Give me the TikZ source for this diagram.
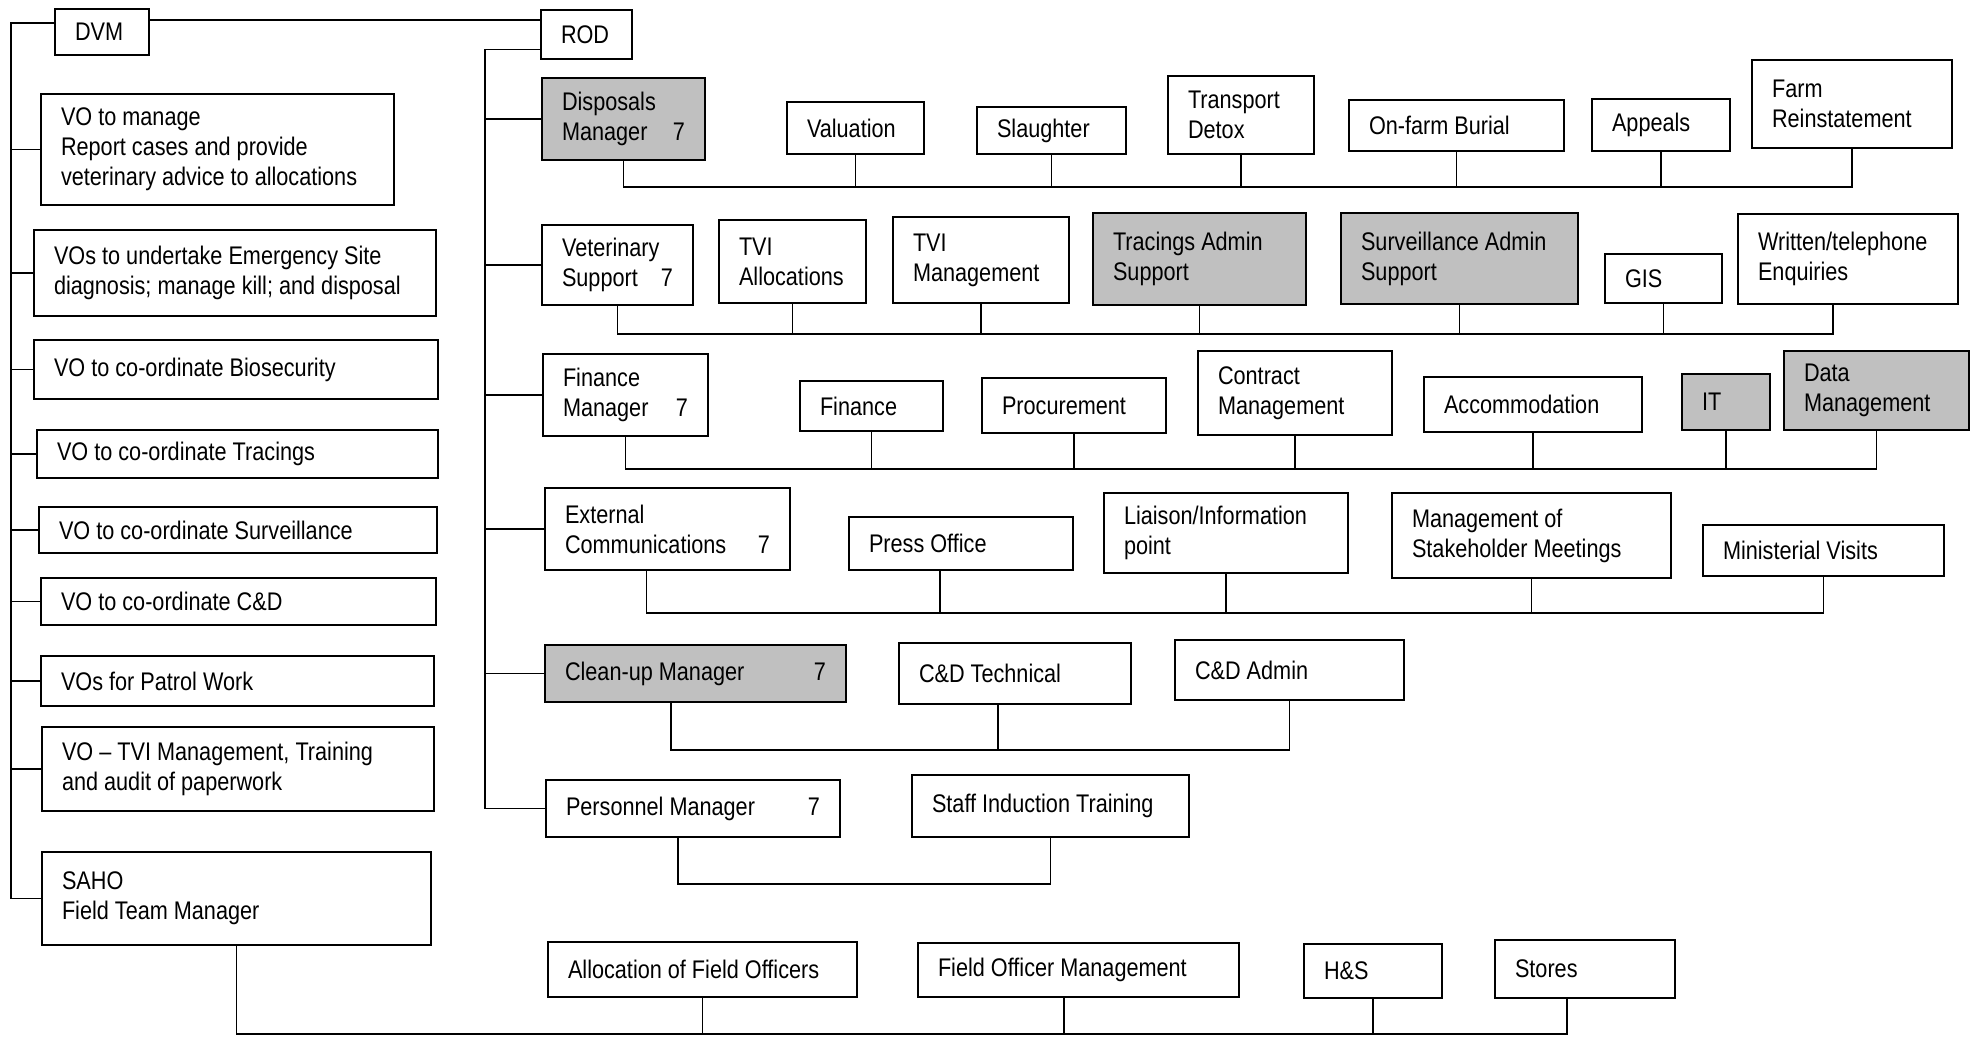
\documentclass[tikz,border=0pt]{standalone}
\usepackage{fontspec}
\setmainfont{Liberation Sans}[FakeStretch=0.85]
\usepackage{xcolor}
\definecolor{boxgray}{HTML}{C0C0C0}

\begin{document}
\begin{tikzpicture}[
		font=\fontsize{14.5}{17.1}\selectfont,
		box/.style={draw, line width=0.04cm, anchor=north west, align=flush left, inner xsep=0.4cm, inner ysep=0pt},
		grey/.style={box, fill=boxgray},
		boxsize/.code 2 args={\pgfmathsetmacro\boxtw{#1-0.8}\edef\boxkeys{\noexpand\tikzset{text width=\boxtw cm}}\boxkeys\tikzset{minimum width=#1cm, minimum height=#2cm}},
		link/.style={line width=0.035cm}
	]
		\useasboundingbox (0,0) rectangle (39.46,-20.72);
		
		\node[box, boxsize={1.88}{0.92}] (dvm) at (1.08,-0.16) {DVM};
		\node[box, boxsize={7.06}{2.22}] (vomanage) at (0.80,-1.86) {VO to manage\\Report cases and provide\\veterinary advice to allocations};
		\node[box, boxsize={8.04}{1.72}] (voemerg) at (0.66,-4.58) {VOs to undertake Emergency Site\\diagnosis; manage kill; and disposal};
		\node[box, boxsize={8.08}{1.18}] (vobiosec) at (0.66,-6.78) {VO to co-ordinate Biosecurity};
		\node[box, boxsize={8.02}{0.96}] (votrace) at (0.72,-8.58) {VO to co-ordinate Tracings};
		\node[box, boxsize={7.96}{0.92}] (vosurv) at (0.76,-10.12) {VO to co-ordinate Surveillance};
		\node[box, boxsize={7.90}{0.94}] (vocd) at (0.80,-11.54) {VO to co-ordinate C\&D};
		\node[box, boxsize={7.86}{1.00}] (vopatrol) at (0.80,-13.10) {VOs for Patrol Work};
		\node[box, boxsize={7.84}{1.68}] (votvi) at (0.82,-14.52) {VO – TVI Management, Training\\and audit of paperwork};
		\node[box, boxsize={7.78}{1.86}] (saho) at (0.82,-17.02) {SAHO\\Field Team Manager};
		
		\node[box, boxsize={1.82}{0.98}] (rod) at (10.80,-0.18) {ROD};
		
		\node[grey, boxsize={3.26}{1.64}] (dispmgr) at (10.82,-1.54) {Disposals\\Manager\hfill 7};
		\node[box, boxsize={2.74}{1.04}] (valuation) at (15.72,-2.02) {Valuation};
		\node[box, boxsize={2.98}{0.94}] (slaughter) at (19.52,-2.12) {Slaughter};
		\node[box, boxsize={2.92}{1.56}] (transport) at (23.34,-1.50) {Transport\\Detox};
		\node[box, boxsize={4.30}{1.02}] (burial) at (26.96,-1.98) {On-farm Burial};
		\node[box, boxsize={2.76}{1.04}] (appeals) at (31.82,-1.96) {Appeals};
		\node[box, boxsize={4.00}{1.76}] (farm) at (35.02,-1.18) {Farm\\Reinstatement};
		
		\node[box, boxsize={3.02}{1.60}] (vetsup) at (10.82,-4.48) {Veterinary\\Support\hfill 7};
		\node[box, boxsize={2.94}{1.66}] (tvialloc) at (14.36,-4.38) {TVI\\Allocations};
		\node[box, boxsize={3.52}{1.72}] (tvimgmt) at (17.84,-4.32) {TVI\\Management};
		\node[grey, boxsize={4.26}{1.84}] (traceadm) at (21.84,-4.24) {Tracings Admin\\Support};
		\node[grey, boxsize={4.74}{1.82}] (survadm) at (26.80,-4.24) {Surveillance Admin\\Support};
		\node[box, boxsize={2.34}{0.98}] (gis) at (32.08,-5.06) {GIS};
		\node[box, boxsize={4.40}{1.80}] (enquiries) at (34.74,-4.26) {Written/telephone\\Enquiries};
		
		\node[box, boxsize={3.30}{1.64}] (finmgr) at (10.84,-7.06) {Finance\\Manager\hfill 7};
		\node[box, boxsize={2.86}{1.00}] (finance) at (15.98,-7.60) {Finance};
		\node[box, boxsize={3.68}{1.10}] (procure) at (19.62,-7.54) {Procurement};
		\node[box, boxsize={3.88}{1.68}] (contract) at (23.94,-7.00) {Contract\\Management};
		\node[box, boxsize={4.36}{1.10}] (accomm) at (28.46,-7.52) {Accommodation};
		\node[grey, boxsize={1.76}{1.12}] (itdesk) at (33.62,-7.46) {IT};
		\node[grey, boxsize={3.70}{1.58}] (datamgmt) at (35.66,-7.00) {Data\\Management};
		
		\node[box, boxsize={4.90}{1.64}] (extcom) at (10.88,-9.74) {External\\Communications\hfill 7};
		\node[box, boxsize={4.48}{1.06}] (press) at (16.96,-10.32) {Press Office};
		\node[box, boxsize={4.88}{1.60}] (liaison) at (22.06,-9.84) {Liaison/Information\\point};
		\node[box, boxsize={5.58}{1.70}] (stakeh) at (27.82,-9.84) {Management of\\Stakeholder Meetings};
		\node[box, boxsize={4.82}{1.02}] (minist) at (34.04,-10.48) {Ministerial Visits};
		
		\node[grey, boxsize={6.02}{1.14}] (cleanup) at (10.88,-12.88) {Clean-up Manager\hfill 7};
		\node[box, boxsize={4.64}{1.22}] (cdtech) at (17.96,-12.84) {C\&D Technical};
		\node[box, boxsize={4.58}{1.20}] (cdadmin) at (23.48,-12.78) {C\&D Admin};
		
		\node[box, boxsize={5.88}{1.14}] (persmgr) at (10.90,-15.58) {Personnel Manager\hfill 7};
		\node[box, boxsize={5.54}{1.24}] (staffind) at (18.22,-15.48) {Staff Induction Training};
		
		\node[box, boxsize={6.18}{1.10}] (alloc) at (10.94,-18.82) {Allocation of Field Officers};
		\node[box, boxsize={6.42}{1.08}] (fom) at (18.34,-18.84) {Field Officer Management};
		\node[box, boxsize={2.76}{1.08}] (hs) at (26.06,-18.86) {H\&S};
		\node[box, boxsize={3.60}{1.16}] (stores) at (29.88,-18.78) {Stores};
		
		\coordinate (dvmtrunk) at (0.22,0);
		\coordinate (rodtrunk) at (9.70,0);
		\coordinate (bus1) at (0,-3.74);
		\coordinate (bus2) at (0,-6.68);
		\coordinate (bus3) at (0,-9.38);
		\coordinate (bus4) at (0,-12.26);
		\coordinate (bus5) at (0,-15.00);
		\coordinate (bus6) at (0,-17.68);
		\coordinate (bus7) at (0,-20.68);
		\coordinate (enqdrop) at ([xshift=-0.30cm]enquiries.south);
		\coordinate (extdrop) at ([xshift=-0.42cm]extcom.south);
		\coordinate (pressdrop) at ([xshift=-0.42cm]press.south);
		\coordinate (cleandrop) at ([xshift=-0.49cm]cleanup.south);
		\coordinate (cdtechdrop) at ([xshift=-0.34cm]cdtech.south);
		\coordinate (persdrop) at ([xshift=-0.30cm]persmgr.south);
		\coordinate (fomdrop) at ([xshift=-0.29cm]fom.south);
		\coordinate (storesdrop) at ([xshift=-0.36cm]stores.south);
		
		\draw[link] ([yshift=0.24cm]dvm.east) -- ([yshift=0.24cm]dvm.east -| rod.west);
		
		\draw[link] ([yshift=0.18cm]dvm.west) -| (dvmtrunk |- saho.west) -- (saho.west);
		\draw[link] (vomanage.west) -- (vomanage.west -| dvmtrunk);
		\draw[link] (voemerg.west) -- (voemerg.west -| dvmtrunk);
		\draw[link] (vobiosec.west) -- (vobiosec.west -| dvmtrunk);
		\draw[link] (votrace.west) -- (votrace.west -| dvmtrunk);
		\draw[link] (vosurv.west) -- (vosurv.west -| dvmtrunk);
		\draw[link] (vocd.west) -- (vocd.west -| dvmtrunk);
		\draw[link] (vopatrol.west) -- (vopatrol.west -| dvmtrunk);
		\draw[link] (votvi.west) -- (votvi.west -| dvmtrunk);
		
		\draw[link] ([yshift=-0.30cm]rod.west) -| (rodtrunk |- persmgr.west) -- (persmgr.west);
		\draw[link] (dispmgr.west) -- (dispmgr.west -| rodtrunk);
		\draw[link] (vetsup.west) -- (vetsup.west -| rodtrunk);
		\draw[link] (finmgr.west) -- (finmgr.west -| rodtrunk);
		\draw[link] (extcom.west) -- (extcom.west -| rodtrunk);
		\draw[link] (cleanup.west) -- (cleanup.west -| rodtrunk);
		
		\draw[link] (dispmgr.south) |- (farm.south |- bus1) -- (farm.south);
		\draw[link] (valuation.south) -- (valuation.south |- bus1);
		\draw[link] (slaughter.south) -- (slaughter.south |- bus1);
		\draw[link] (transport.south) -- (transport.south |- bus1);
		\draw[link] (burial.south) -- (burial.south |- bus1);
		\draw[link] (appeals.south) -- (appeals.south |- bus1);
		
		\draw[link] (vetsup.south) |- (enqdrop |- bus2) -- (enqdrop);
		\draw[link] (tvialloc.south) -- (tvialloc.south |- bus2);
		\draw[link] (tvimgmt.south) -- (tvimgmt.south |- bus2);
		\draw[link] (traceadm.south) -- (traceadm.south |- bus2);
		\draw[link] (survadm.south) -- (survadm.south |- bus2);
		\draw[link] (gis.south) -- (gis.south |- bus2);
		
		\draw[link] (finmgr.south) |- (datamgmt.south |- bus3) -- (datamgmt.south);
		\draw[link] (finance.south) -- (finance.south |- bus3);
		\draw[link] (procure.south) -- (procure.south |- bus3);
		\draw[link] (contract.south) -- (contract.south |- bus3);
		\draw[link] (accomm.south) -- (accomm.south |- bus3);
		\draw[link] (itdesk.south) -- (itdesk.south |- bus3);
		
		\draw[link] (extdrop) |- (minist.south |- bus4) -- (minist.south);
		\draw[link] (pressdrop) -- (pressdrop |- bus4);
		\draw[link] (liaison.south) -- (liaison.south |- bus4);
		\draw[link] (stakeh.south) -- (stakeh.south |- bus4);
		
		\draw[link] (cleandrop) |- (cdadmin.south |- bus5) -- (cdadmin.south);
		\draw[link] (cdtechdrop) -- (cdtechdrop |- bus5);
		
		\draw[link] (persdrop) |- (staffind.south |- bus6) -- (staffind.south);
		
		\draw[link] (saho.south) |- (storesdrop |- bus7) -- (storesdrop);
		\draw[link] (alloc.south) -- (alloc.south |- bus7);
		\draw[link] (fomdrop) -- (fomdrop |- bus7);
		\draw[link] (hs.south) -- (hs.south |- bus7);
	\end{tikzpicture}
\end{document}
